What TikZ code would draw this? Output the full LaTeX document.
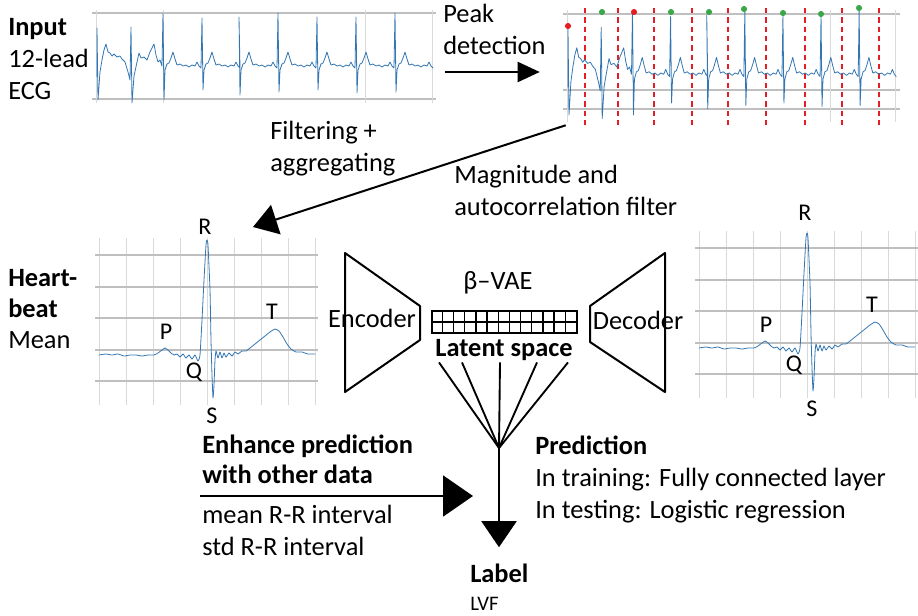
\documentclass[tikz,border=0pt]{standalone}
\usepackage{fontspec}
\setmainfont{Carlito}
\usetikzlibrary{positioning,arrows.meta,calc}
\definecolor{ecgblue}{RGB}{52,118,178}
\definecolor{peakred}{RGB}{228,30,36}
\definecolor{peakgreen}{RGB}{58,168,72}

\begin{document}
\begin{tikzpicture}[x=0.75pt, y=-0.75pt,
  every node/.style={font=\fontsize{19.8}{24}\selectfont, inner sep=0pt},
  txt/.style={align=left, anchor=base west},
  wave/.style={font=\fontsize{18}{20}\selectfont},
  ecg/.style={draw=ecgblue, line width=0.6pt, line join=round},
  gridv/.style={draw=black!15, line width=0.6pt},
  gridh/.style={draw=black!25, line width=0.9pt},
  peakline/.style={draw=peakred, line width=0.9pt, dash pattern=on 4pt off 3pt},
  trap/.style={draw, line width=1.5pt, line join=round},
  fanline/.style={draw, line width=1.4pt}]
\useasboundingbox (0,0) rectangle (918,615);

% input strip
\node[minimum width=252pt, minimum height=64.5pt] (ecgin) at (264,56) {};
\foreach \gy in {13,99} \draw[gridh] (92,\gy) -- (436,\gy);
\foreach \gx in {96,163,365,432} \draw[gridv] (\gx,10) -- (\gx,103);
\node[txt] (inp) at (8,99) {\textbf{Input}\\12-lead\\ECG};

% strip with detected peaks
\node[minimum width=246.75pt, minimum height=87.75pt] (ecgpk) at (730.5,66.5) {};
\foreach \gy in {14,90,109} \draw[gridh] (563,\gy) -- (900,\gy);
\foreach \gx in {567,830,895} \draw[gridv] (\gx,10) -- (\gx,122);
\foreach \x in {585,618,654,692,728,766,805,842,879}
  \draw[peakline] (\x,8) -- (\x,125);

% ecg signal (same trace twice)
\foreach \ox/\oy/\sx/\sy in {97/65/1/1, 568/73/0.977/1.2} {
  \begin{scope}[shift={(\ox,\oy)}, xscale=\sx, yscale=\sy, shift={(-97,-65)}]
    \draw[ecg] (97,77) -- (97,28) -- (98,100) -- (100,72) -- (102,60) -- (104,50)
      -- (106,44) -- (108,52) -- (110,53) -- (112,56) -- (114,54) -- (117,57)
      -- (120,56) -- (122,59) -- (125,62) -- (128,72) -- (130,80) -- (131,27)
      -- (132,103) -- (134,76) -- (137,62) -- (139,53) -- (141,58) -- (144,57)
      -- (147,60) -- (150,52) -- (154,44) -- (156,55) -- (158,62) -- (160,60)
      -- (162,66)
      \foreach \s/\t/\b in {163/13/100, 202/18/90, 239/17/95, 278/13/92,
                            317/17/90, 356/17/93, 395/13/92} {
        -- (\s,\t) -- (\s+1,\b) -- (\s+2,70) -- (\s+4,64) -- (\s+6,63)
        -- (\s+8,58) -- (\s+10,52) -- (\s+12,59) -- (\s+14,65) -- (\s+17,64)
        -- (\s+20,66) -- (\s+23,65) -- (\s+26,67) -- (\s+29,65) -- (\s+32,66)
        -- (\s+34,62) -- (\s+36,66) -- (\s+38,68)
      };
  \end{scope}
}
\foreach \x/\y/\c in {568/26/peakred, 602/12/peakgreen, 634/12/peakred,
                      671/12/peakgreen, 709/12/peakgreen, 744/9/peakgreen,
                      783/13/peakgreen, 821/14/peakgreen, 859/8/peakgreen}
  \fill[\c] (\x,\y) circle[radius=2.3pt];

% peak detection
\coordinate (pkrow) at (0,72);
\node[txt] (peak) at (443,54) {Peak\\detection};
\draw[line width=1.5pt, -{Triangle[length=16.5pt,width=15pt]},
      shorten <=9.75pt, shorten >=19.5pt] (ecgin.east |- pkrow) -- (ecgpk.west |- pkrow);

% filtering
\coordinate (beattip) at (253,227);
\node[txt] (filt) at (270,171) {Filtering +\\aggregating};
\node[txt] (magn) at (454,215) {Magnitude and\\autocorrelation filter};
\draw[line width=1.5pt, -{Triangle[length=18pt,width=23pt]}] (ecgpk.south west) -- (beattip);

% heartbeats (mean and reconstruction)
\foreach \n/\dx/\dy/\ry in {in/0/0/227, out/600/-7/220} {
  \begin{scope}[shift={(\dx,\dy)}]
    \node[minimum width=162pt, minimum height=125.25pt] (beat\n) at (207,321.5) {};
    \foreach \gx in {0,...,8} \draw[gridv] (99+27*\gx,238) -- (99+27*\gx,405);
    \foreach \gy in {255,287,318,350,381} \draw[gridh] (95,\gy) -- (318,\gy);
    \draw[ecg] plot[smooth, tension=0.3] coordinates {
      (99,355) (106,354) (112,355) (118,354) (124,356) (130,355) (136,355)
      (142,356) (148,355) (154,355) (158,353) (162,350) (165,348) (168,350)
      (171,353) (174,355) (177,354) (180,357) (183,354) (186,358) (189,355)
      (192,359) (195,355) (198,361) (200,355) (202,320) (204,280) (206,245)
      (207,240) (208,245) (210,290) (211,340) (212,375) (213,398) (214,385)
      (215,360) (216,351) (218,358) (220,352) (222,358) (224,353) (226,357)
      (229,353) (232,356) (235,352) (238,354) (242,351) (246,351) (250,348)
      (255,344) (260,340) (265,336) (270,332) (275,329) (279,331) (283,337)
      (287,344) (291,349) (296,352) (302,352) (308,354) (315,354)};
    \node[wave] (r\n) at (205,\ry) {R};
    \node[wave] (p\n) at (166,332) {P};
    \node[wave] (t\n) at (272,312) {T};
    \node[wave] (q\n) at (194,372) {Q};
    \node[wave] (s\n) at (212,416) {S};
  \end{scope}
}
\node[txt, font=\fontsize{19.8}{23.25}\selectfont] (heart) at (8,348) {\textbf{Heart-}\\\textbf{beat}\\Mean};

% beta-VAE
\draw[trap] (345,253) -- (420,306) -- (420,340) -- (345,392) -- cycle;
\draw[trap] (665,253) -- (590,306) -- (590,342) -- (665,392) -- cycle;
\node[anchor=base] (enc) at (372,327) {Encoder};
\node[anchor=base] (dec) at (638,329) {Decoder};
\node[anchor=base] (vae) at (498,289) {β–VAE};
\node[draw, line width=1pt, minimum width=108.75pt, minimum height=16.5pt] (latent) at (504.5,322) {};
\draw[line width=1pt] (latent.west) -- (latent.east);
\foreach \i in {1,...,12}
  \draw[line width=1pt] ($(latent.north west)+(\i*11.154,0)$) -- ($(latent.south west)+(\i*11.154,0)$);
\node[anchor=base, font=\fontsize{19.8}{24}\selectfont\bfseries] (lspace) at (504,356) {Latent space};

% prediction
\coordinate (join) at (499,448);
\foreach \dx in {-65,-42,-4,33,64}
  \draw[fanline] ($(lspace.south)+(\dx,2)$) -- (join);
\node[txt] (pred) at (535,518) {\textbf{Prediction}\\In training: Fully connected layer\\In testing: Logistic regression};
\node[txt, font=\fontsize{19.8}{22.5}\selectfont\bfseries] (enh) at (202,483) {Enhance prediction\\with other data};
\node[txt] (rr) at (202,555) {mean R-R interval\\std R-R interval};
\node[txt, font=\fontsize{19.8}{21}\selectfont] (lbl) at (470,610) {\textbf{Label}\\{\fontsize{15.5}{16}\selectfont LVF}};
\coordinate (feat) at (200,496);
\draw[line width=1.5pt, -{Triangle[length=22.5pt,width=30.75pt]}, shorten >=19.5pt] (feat) -- (feat -| join);
\draw[line width=1.5pt, -{Triangle[length=19.5pt,width=26.25pt]}, shorten >=12pt] (join) -- (join |- lbl.north);
\end{tikzpicture}
\end{document}
